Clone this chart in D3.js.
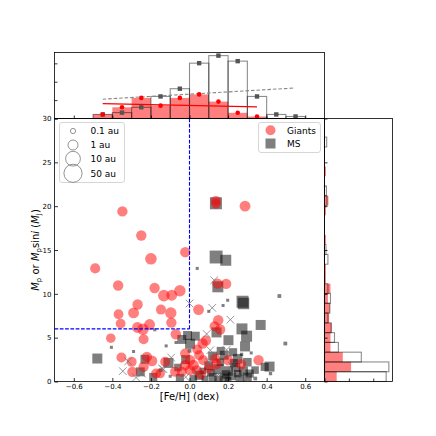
<!DOCTYPE html>
<html><head><meta charset="utf-8">
<script src="https://cdn.jsdelivr.net/npm/d3@7"></script>
<style>body{margin:0;background:#fff}svg{display:block}text{font-family:"DejaVu Sans",sans-serif}</style>
</head><body><svg id="c" width="436" height="436"></svg>
<script>
// ---------- data ----------
const giantsFeH = [-0.348,-0.25,-0.022,-0.2,-0.489,-0.37,-0.181,-0.133,-0.092,-0.05,-0.269,-0.368,-0.29,-0.148,-0.097,-0.357,-0.094,-0.27,-0.241,-0.207,-0.238,-0.408,-0.071,0.047,0.137,0.137,0.288,0.145,0.19,0.149,0.13,0.159,0.085,0.068,0.04,0.358,0.133,0.2,0.267,-0.353,-0.3,-0.221,-0.195,-0.296,-0.238,-0.173,-0.023,0.003,-0.023,0.02,0.003,-0.04,0.037,-0.126,-0.075,-0.152,0.071,0.06,0.1,0.05,0.14];
const giantsMass = [19.4,16.65,14.75,14.0,12.9,10.95,10.67,9.8,9.84,10.35,8.78,7.67,7.82,8.2,7.82,6.6,6.72,6.16,5.96,6.5,4.82,4.94,5.39,8.2,20.6,20.25,20.0,11.17,11.13,7.0,6.3,5.93,4.67,4.33,3.65,2.43,2.62,2.43,1.97,2.73,2.24,2.8,2.35,1.1,1.67,0.91,3.19,2.43,1.86,1.86,1.29,1.1,1.29,2.24,1.1,0.91,2.43,0.8,1.5,3.0,2.0];
const giantsA = [1.2,1.2,1.2,2.2,1.1,1.2,1.2,2.2,1.5,2.0,1.2,0.9,1.5,1.0,2.0,0.9,1.2,1.5,2.0,1.5,1.0,0.8,1.2,1.5,1.0,0.8,1.5,1.2,1.2,1.2,1.0,1.2,1.2,1.2,1.0,1.2,1.0,1.2,1.2,1.0,1.0,1.2,1.5,1.2,1.2,1.0,1.0,1.2,1.2,1.5,1.2,1.0,1.0,1.0,1.0,0.8,1.0,0.8,1.0,1.0,1.2];

const msFeH = [0.137,0.138,0.188,0.04,0.147,0.466,0.275,0.28,0.1,0.174,0.198,0.272,0.296,0.369,0.202,0.288,0.497,0.03,-0.01,0.162,0.226,0.415,0.39,-0.478,-0.405,-0.29,-0.18,-0.121,-0.07,-0.04,-0.231,-0.255,-0.188,-0.109,-0.1,0.32,0.312,0.341,0.12,0.18,0.25,0.1,0.15,0.2,0.24,0.28,0.05,0.12,0.18,0.22,0.26,0.3,0.08,0.15,0.2,-0.05,-0.02,0.0,0.07,0.16,0.23,0.34,0.3,0.11,0.19,0.25,-0.15,-0.06,0.02,0.27,0.42,0.003,0.14];
const msMass = [20.33,14.2,13.83,12.9,10.8,9.75,9.1,8.9,8.0,8.67,9.27,6.0,5.17,6.45,4.71,4.0,4.33,5.17,5.25,3.49,3.34,1.7,1.67,2.62,3.9,3.42,5.9,4.06,4.45,4.8,2.54,1.1,0.52,2.12,0.6,3.26,0.91,0.34,2.9,3.0,2.6,1.8,1.4,1.2,1.6,1.2,0.7,0.5,0.4,0.6,0.3,0.5,0.3,0.2,0.15,0.4,2.5,3.5,1.2,2.2,2.1,1.3,2.2,1.0,0.8,0.9,1.3,1.6,0.3,3.1,0.9,4.3,5.6];
const msA = [2.6,4.0,1.6,0.035,1.6,0.05,2.6,2.0,0.035,0.035,0.035,1.6,1.6,1.0,1.0,1.0,0.05,0.6,0.6,0.4,0.4,1.0,0.4,1.0,0.035,0.035,0.035,0.035,0.035,0.6,0.6,0.6,0.4,1.0,0.035,0.035,0.4,0.05,0.6,0.6,0.8,0.6,1.0,0.8,0.6,0.6,0.6,0.4,0.6,0.4,0.4,0.6,0.2,0.4,0.2,0.4,0.6,0.05,0.2,0.3,0.4,0.3,0.5,0.3,0.5,0.3,0.05,0.3,0.3,0.04,0.04,1.0,1.0];

const crossFeH = [-0.346,-0.318,-0.277,-0.247,-0.143,-0.095,0.0,0.128,0.118,0.212,0.089,0.108,-0.135,0.037,0.192,0.269,0.3,0.15,0.22,-0.02,0.1];
const crossMass = [1.18,2.3,0.46,0.91,1.48,2.73,8.9,11.55,8.4,7.05,5.42,3.57,1.4,1.1,3.6,0.52,0.4,0.8,1.8,0.5,2.2];

// top histogram ([Fe/H] bins of 0.1 dex)
const fehBinStart = [-0.5,-0.4,-0.3,-0.2,-0.1,0.0,0.1,0.2,0.3,0.4,0.5];
const fehHistMS = [0.22,0.32,0.61,1.2,1.62,3.01,3.42,3.12,1.2,0.22,0.11];
const fehHistGiants = [0.22,0.61,1.12,0.7,1.12,1.31,0.92,0.31,0.11,0,0];
const fitMSFeH = [-0.45,0.547], fitMSVal = [1.05,1.66];
const fitGFeH = [-0.45,0.35], fitGVal = [0.81,0.63];

// right histogram (mass bins)
const massBinStart = [0,1.115,2.23,3.345,4.46,5.575,6.69,7.805,8.92,10.035,11.15,12.265,13.38,14.495,15.61,16.725,17.84,18.955,20.07,21.185,22.3,23.415,24.53,25.645,26.76];
const massBinWidth = 1.115;
const massHistMS = [2.53,2.64,1.51,0.57,0.41,0.27,0.14,0.22,0.245,0.14,0,0,0.14,0.06,0,0,0,0,0.1,0.08,0,0,0,0,0.09];
const massHistGiants = [0.5,1.09,0.75,0.245,0.245,0.3,0.19,0.22,0.14,0.245,0.06,0.06,0,0,0.06,0,0,0.06,0.16,0,0,0.06,0,0,0];

const xTicks = [-0.6,-0.4,-0.2,0.0,0.2,0.4,0.6];
const yTicks = [0,5,10,15,20,25,30];
const legendA = [0.1,1,10,50];
const legendALabels = ["0.1 au","1 au","10 au","50 au"];

// ---------- layout ----------
const svg = d3.select("#c");
const L=54.5,R=324.5,T=118.5,B=381.5,TT=52.5,RR=392.5;
const x = d3.scaleLinear().domain([-0.7,0.7]).range([L,R]);
const y = d3.scaleLinear().domain([0,30]).range([B,T]);
const yTop = d3.scaleLinear().domain([0,3.59]).range([T,TT]);
const xR = d3.scaleLinear().domain([0,2.79]).range([R,RR]);
const rS = d3.scaleLog().domain([0.1,10]).range([2.6,7.4]);

svg.append("defs").append("clipPath").attr("id","clipMain")
  .append("rect").attr("x",L).attr("y",T).attr("width",R-L).attr("height",B-T);

// ---------- top histogram ----------
const gt = svg.append("g");
gt.selectAll("rect.g").data(fehBinStart).join("rect")
  .attr("x",d=>x(d)).attr("width",d=>x(d+0.1)-x(d))
  .attr("y",(d,i)=>yTop(fehHistGiants[i])).attr("height",(d,i)=>T-yTop(fehHistGiants[i]))
  .attr("fill","rgba(255,0,0,0.5)");
gt.selectAll("rect.m").data(fehBinStart).join("rect")
  .attr("x",d=>x(d)).attr("width",d=>x(d+0.1)-x(d))
  .attr("y",(d,i)=>yTop(fehHistMS[i])).attr("height",(d,i)=>T-yTop(fehHistMS[i]))
  .attr("fill","none").attr("stroke","#000").attr("stroke-opacity",0.45).attr("stroke-width",1.1);
gt.append("line").attr("x1",x(fitMSFeH[0])).attr("x2",x(fitMSFeH[1]))
  .attr("y1",yTop(fitMSVal[0])).attr("y2",yTop(fitMSVal[1]))
  .attr("stroke","#888").attr("stroke-width",1.1).attr("stroke-dasharray","3.5,2");
gt.append("line").attr("x1",x(fitGFeH[0])).attr("x2",x(fitGFeH[1]))
  .attr("y1",yTop(fitGVal[0])).attr("y2",yTop(fitGVal[1]))
  .attr("stroke","#ff0000").attr("stroke-width",1.1);
gt.selectAll("rect.mk").data(fehBinStart.filter((d,i)=>fehHistMS[i]>0)).join("rect")
  .attr("x",d=>x(d+0.05)-2.2).attr("width",4.4)
  .attr("y",d=>yTop(fehHistMS[fehBinStart.indexOf(d)])-2.2).attr("height",4.4)
  .attr("fill","#555");
gt.selectAll("circle").data(fehBinStart.filter((d,i)=>fehHistGiants[i]>0)).join("circle")
  .attr("cx",d=>x(d+0.05)).attr("cy",d=>yTop(fehHistGiants[fehBinStart.indexOf(d)]))
  .attr("r",2.3).attr("fill","#ff0000");
gt.append("g").attr("transform",`translate(0,${T})`)
  .call(d3.axisBottom(x).tickValues(xTicks).tickSize(-3).tickFormat(""));
gt.append("g").attr("transform",`translate(${L},0)`)
  .call(d3.axisLeft(yTop).tickValues([0,1,2,3]).tickSize(-3).tickFormat(""));
gt.append("rect").attr("x",L).attr("y",TT).attr("width",R-L).attr("height",T-TT)
  .attr("fill","none").attr("stroke","#000").attr("stroke-width",0.8);

// ---------- right histogram ----------
const gr = svg.append("g");
gr.selectAll("rect.g").data(massBinStart).join("rect")
  .attr("x",R).attr("width",(d,i)=>xR(massHistGiants[i])-R)
  .attr("y",d=>y(d+massBinWidth)).attr("height",d=>y(d)-y(d+massBinWidth))
  .attr("fill","rgba(255,0,0,0.5)");
gr.selectAll("rect.m").data(massBinStart.filter((d,i)=>massHistMS[i]>0)).join("rect")
  .attr("x",R).attr("width",d=>xR(massHistMS[massBinStart.indexOf(d)])-R)
  .attr("y",d=>y(d+massBinWidth)).attr("height",d=>y(d)-y(d+massBinWidth))
  .attr("fill","none").attr("stroke","#000").attr("stroke-opacity",0.45).attr("stroke-width",1.1);
gr.append("g").attr("transform",`translate(0,${B})`)
  .call(d3.axisBottom(xR).tickValues([0,1,2]).tickSize(-3).tickFormat(""));
gr.append("g").attr("transform",`translate(${R},0)`)
  .call(d3.axisLeft(y).tickValues(yTicks).tickSize(-3).tickFormat(""));
gr.append("rect").attr("x",R).attr("y",T).attr("width",RR-R).attr("height",B-T)
  .attr("fill","none").attr("stroke","#000").attr("stroke-width",0.8);

// ---------- main scatter ----------
const gm = svg.append("g");
const pts = gm.append("g").attr("clip-path","url(#clipMain)");
pts.selectAll("rect").data(msFeH).join("rect")
  .attr("x",(d,i)=>x(d)-rS(msA[i])).attr("y",(d,i)=>y(msMass[i])-rS(msA[i]))
  .attr("width",(d,i)=>2*rS(msA[i])).attr("height",(d,i)=>2*rS(msA[i]))
  .attr("fill","#000").attr("fill-opacity",0.5);
pts.selectAll("circle").data(giantsFeH).join("circle")
  .attr("cx",d=>x(d)).attr("cy",(d,i)=>y(giantsMass[i])).attr("r",(d,i)=>rS(giantsA[i]))
  .attr("fill","#ff0000").attr("fill-opacity",0.5);
pts.selectAll("path.x").data(crossFeH).join("path")
  .attr("d",(d,i)=>{const cx=x(d),cy=y(crossMass[i]),s=3.8;
    return `M${cx-s},${cy-s}L${cx+s},${cy+s}M${cx-s},${cy+s}L${cx+s},${cy-s}`;})
  .attr("stroke","#666").attr("stroke-opacity",0.85).attr("stroke-width",0.8).attr("fill","none");

// blue dashed guide lines
gm.append("line").attr("x1",x(0)).attr("x2",x(0)).attr("y1",y(30)).attr("y2",y(6))
  .attr("stroke","#0000ff").attr("stroke-width",1.1).attr("stroke-dasharray","3.7,1.6");
gm.append("line").attr("x1",x(-0.7)).attr("x2",x(0)).attr("y1",y(6)).attr("y2",y(6))
  .attr("stroke","#0000ff").attr("stroke-width",1.1).attr("stroke-dasharray","3.7,1.6");

// axes
const axB = gm.append("g").attr("transform",`translate(0,${B})`)
  .call(d3.axisBottom(x).tickValues(xTicks).tickFormat(d3.format(".1f")).tickSize(-3.5).tickPadding(3));
const axL = gm.append("g").attr("transform",`translate(${L},0)`)
  .call(d3.axisLeft(y).tickValues(yTicks).tickFormat(d3.format("d")).tickSize(-3.5).tickPadding(3));
svg.selectAll(".domain").remove();
svg.selectAll(".tick line").attr("stroke","#000").attr("stroke-width",0.8);
[axB,axL].forEach(a=>a.selectAll("text").attr("font-size",7).attr("fill","#000").attr("font-family","DejaVu Sans"));
gm.append("rect").attr("x",L).attr("y",T).attr("width",R-L).attr("height",B-T)
  .attr("fill","none").attr("stroke","#000").attr("stroke-width",0.8);

// axis labels
svg.append("text").attr("x",(L+R)/2).attr("y",400).attr("text-anchor","middle")
  .attr("font-size",10).text("[Fe/H] (dex)");
const yl = svg.append("text").attr("transform",`translate(39,${(T+B)/2}) rotate(-90)`)
  .attr("text-anchor","middle").attr("font-size",10);
yl.append("tspan").attr("font-style","italic").text("M");
yl.append("tspan").attr("font-size",7).attr("dy",2).text("p");
yl.append("tspan").attr("dy",-2).text(" or ");
yl.append("tspan").attr("font-style","italic").text("M");
yl.append("tspan").attr("font-size",7).attr("dy",2).text("p");
yl.append("tspan").attr("dy",-2).text("sin");
yl.append("tspan").attr("font-style","italic").text("i");
yl.append("tspan").text(" (");
yl.append("tspan").attr("font-style","italic").text("M");
yl.append("tspan").attr("font-size",7).attr("dy",2).text("J");
yl.append("tspan").attr("dy",-2).text(")");

// legend: semi-major axis sizes
const lg1 = svg.append("g");
lg1.append("rect").attr("x",59.5).attr("y",122.5).attr("width",65).attr("height",60).attr("rx",2.5)
  .attr("fill","#fff").attr("fill-opacity",0.8).attr("stroke","#ccc").attr("stroke-width",0.8);
const ly1 = [131,145,158.7,173.3];
lg1.selectAll("circle").data(legendA).join("circle")
  .attr("cx",73).attr("cy",(d,i)=>ly1[i]).attr("r",d=>rS(d))
  .attr("fill","none").attr("stroke","#777").attr("stroke-width",0.8);
lg1.selectAll("text").data(legendALabels).join("text")
  .attr("x",90.5).attr("y",(d,i)=>ly1[i]+3.3).attr("font-size",9).text(d=>d);

// legend: populations
const lg2 = svg.append("g");
lg2.append("rect").attr("x",258.5).attr("y",122.5).attr("width",62).attr("height",30).attr("rx",2.5)
  .attr("fill","#fff").attr("fill-opacity",0.8).attr("stroke","#ccc").attr("stroke-width",0.8);
lg2.append("circle").attr("cx",270.5).attr("cy",130.3).attr("r",5).attr("fill","#ff0000").attr("fill-opacity",0.5);
lg2.append("rect").attr("x",265.5).attr("y",138.5).attr("width",10).attr("height",10).attr("fill","#000").attr("fill-opacity",0.5);
lg2.append("text").attr("x",287).attr("y",133.5).attr("font-size",9).text("Giants");
lg2.append("text").attr("x",287).attr("y",146.8).attr("font-size",9).text("MS");
</script></body></html>
